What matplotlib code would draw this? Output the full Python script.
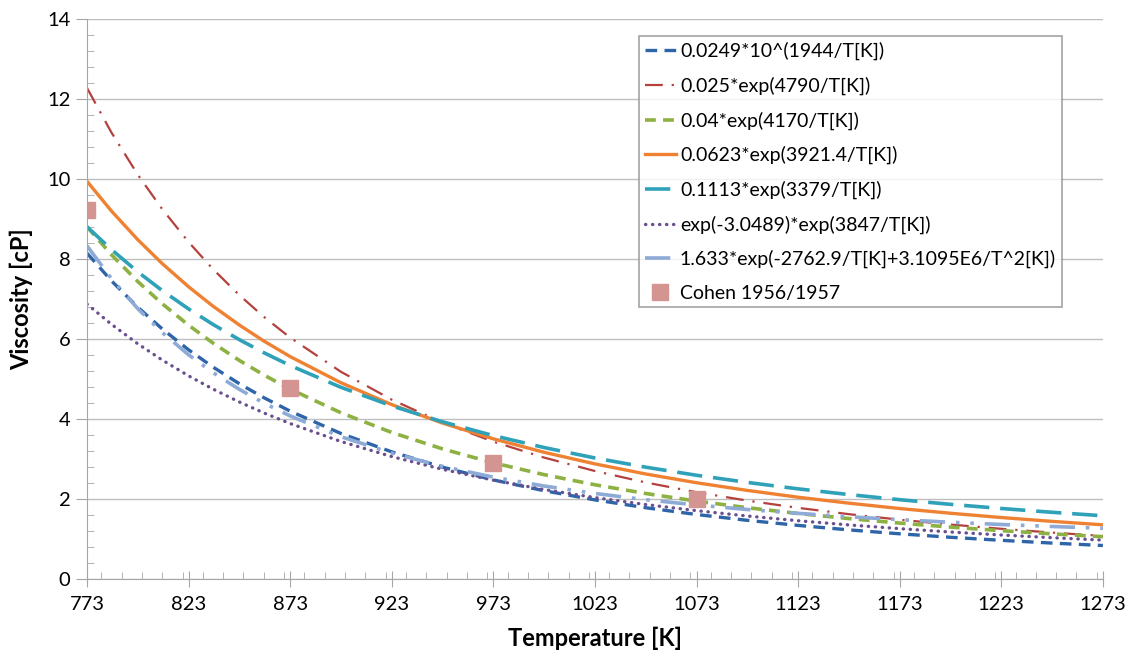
import matplotlib
matplotlib.use("Agg")
import matplotlib.pyplot as plt
from matplotlib.ticker import MultipleLocator, FixedLocator

plt.rcParams['font.family'] = ['Lato', 'DejaVu Sans']

temps = [773, 785, 798, 810, 823, 835, 848, 860, 873, 898, 923, 948, 973, 998, 1023,
         1048, 1073, 1098, 1123, 1148, 1173, 1198, 1223, 1248, 1273]

visc_10pow = [8.149, 7.458, 6.796, 6.255, 5.732, 5.301, 4.883, 4.536, 4.198, 3.639, 3.180,
              2.798, 2.478, 2.208, 1.979,
              1.783, 1.614, 1.468, 1.341, 1.229, 1.131, 1.044, 0.968, 0.899, 0.838]
visc_4790 = [12.28, 11.168, 10.11, 9.251, 8.426, 7.750, 7.098, 6.559, 6.037, 5.182, 4.485,
             3.911, 3.435, 3.037, 2.701,
             2.415, 2.171, 1.961, 1.780, 1.622, 1.484, 1.363, 1.256, 1.161, 1.077]
visc_4170 = [8.808, 8.111, 7.439, 6.885, 6.347, 5.901, 5.466, 5.104, 4.748, 4.157, 3.665,
             3.254, 2.906, 2.610, 2.357,
             2.139, 1.949, 1.784, 1.639, 1.512, 1.399, 1.299, 1.210, 1.130, 1.059]
visc_3921 = [9.946, 9.204, 8.485, 7.889, 7.308, 6.824, 6.351, 5.953, 5.562, 4.909, 4.361,
             3.899, 3.506, 3.169, 2.879,
             2.627, 2.408, 2.216, 2.046, 1.897, 1.763, 1.645, 1.538, 1.442, 1.356]
visc_3379 = [8.809, 8.240, 7.681, 7.214, 6.754, 6.367, 5.985, 5.661, 5.339, 4.794, 4.329,
             3.931, 3.587, 3.288, 3.027,
             2.797, 2.595, 2.416, 2.255, 2.112, 1.984, 1.868, 1.764, 1.669, 1.582]
visc_3847 = [6.874, 6.371, 5.882, 5.477, 5.081, 4.750, 4.427, 4.155, 3.888, 3.439, 3.062,
             2.743, 2.472, 2.238, 2.037,
             1.863, 1.710, 1.576, 1.458, 1.353, 1.260, 1.176, 1.101, 1.034, 0.973]
visc_quad = [8.332, 7.515, 6.760, 6.165, 5.608, 5.162, 4.742, 4.402, 4.078, 3.560, 3.149,
             2.818, 2.548, 2.326, 2.140,
             1.984, 1.852, 1.739, 1.642, 1.558, 1.484, 1.420, 1.364, 1.314, 1.270]

cohen_t = [773, 873, 973, 1073]
cohen_v = [9.22, 4.77, 2.90, 2.00]

labels = ["0.0249*10^(1944/T[K])",
          "0.025*exp(4790/T[K])",
          "0.04*exp(4170/T[K])",
          "0.0623*exp(3921.4/T[K])",
          "0.1113*exp(3379/T[K])",
          "exp(-3.0489)*exp(3847/T[K])",
          "1.633*exp(-2762.9/T[K]+3.1095E6/T^2[K])",
          "Cohen 1956/1957"]

x_ticks = [773, 823, 873, 923, 973, 1023, 1073, 1123, 1173, 1223, 1273]


def main():
    fig = plt.figure(figsize=(11.3, 6.61), dpi=100)
    ax = fig.add_axes([0.077, 0.124, 0.899, 0.847])

    ax.plot(temps, visc_10pow, color="#2E64A8", lw=2.4, ls=(0, (3.5, 2.2)), label=labels[0])
    ax.plot(temps, visc_4790, color="#B5413E", lw=1.6, ls=(0, (8, 4, 1, 4)), label=labels[1])
    ax.plot(temps, visc_4170, color="#8DB142", lw=2.6, ls=(0, (3, 2)), label=labels[2])
    ax.plot(temps, visc_3921, color="#EE8232", lw=2.4, ls="-", label=labels[3])
    ax.plot(temps, visc_3379, color="#2FA1B9", lw=2.6, ls=(0, (7, 3)), label=labels[4])
    ax.plot(temps, visc_3847, color="#6A4F8F", lw=2.4, ls=(0, (0.1, 2.0)),
            dash_capstyle="round", label=labels[5])
    ax.plot(temps, visc_quad, color="#8EAAD6", lw=2.6, ls=(0, (7, 3, 1, 3, 1, 3)), label=labels[6])
    ax.plot(cohen_t, cohen_v, ls="none", marker="s", ms=12, color="#D49592",
            mec="#D49592", label=labels[7], zorder=5)

    ax.set_xlim(773, 1273)
    ax.set_ylim(0, 14)
    ax.xaxis.set_major_locator(FixedLocator(x_ticks))
    ax.xaxis.set_minor_locator(MultipleLocator(10))
    ax.yaxis.set_major_locator(MultipleLocator(2))
    ax.yaxis.set_minor_locator(MultipleLocator(0.4))

    ax.grid(axis="y", which="major", color="#BEBEBE", lw=1)
    ax.set_axisbelow(True)
    for s in ["top", "right"]:
        ax.spines[s].set_visible(False)
    for s in ["left", "bottom"]:
        ax.spines[s].set_color("#A6A6A6")
    ax.tick_params(axis="x", which="major", direction="inout", length=12, color="#A6A6A6",
                   labelsize=14.5, pad=6)
    ax.tick_params(axis="x", which="minor", direction="in", length=5, color="#A6A6A6")
    ax.tick_params(axis="y", which="major", direction="out", length=8, color="#A6A6A6",
                   labelsize=14.5, pad=4)
    ax.tick_params(axis="y", which="minor", direction="in", length=5, color="#A6A6A6")

    ax.set_xlabel("Temperature [K]", fontsize=17, fontweight="bold", labelpad=10)
    ax.set_ylabel("Viscosity [cP]", fontsize=17, fontweight="bold", labelpad=10)

    leg = ax.legend(loc="upper right", bbox_to_anchor=(0.9596, 0.9696), fontsize=14,
                    frameon=True, fancybox=False, handlelength=1.6, handletextpad=0.2,
                    labelspacing=0.84, borderpad=0.3, borderaxespad=0)
    leg.get_frame().set_edgecolor("#8C8C8C")
    leg.get_frame().set_linewidth(1.2)

    fig.savefig("out.png", dpi=100)


if __name__ == "__main__":
    main()
